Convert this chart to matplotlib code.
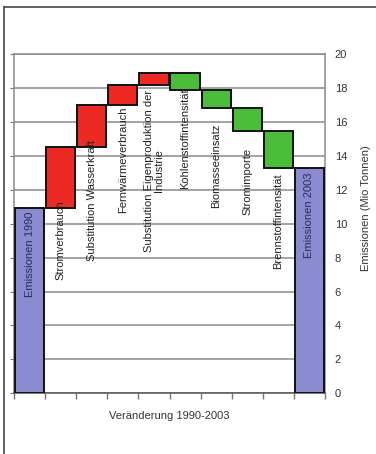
import numpy as np
import matplotlib
matplotlib.use('Agg')
import matplotlib.pyplot as plt
from matplotlib.lines import Line2D

plt.rcParams['font.family'] = ['Liberation Sans', 'DejaVu Sans']

# Emissionen 1990, Veränderungen, Emissionen 2003 (Mio Tonnen)
labels = ['Emissionen 1990', 'Stromverbrauch', 'Substitution Wasserkraft',
          'Fernwärmeverbrauch', 'Substitution Eigenproduktion der\nIndustrie',
          'Kohlenstoffintensität', 'Biomasseeinsatz', 'Stromimporte',
          'Brennstoffintensität', 'Emissionen 2003']
start_value = 10.9
changes = [3.6, 2.5, 1.2, 0.7, -1.05, -1.05, -1.35, -2.15]
end_value = 13.3

# oberer Rand der Beschriftung (in Mio Tonnen)
label_top = [10.7, 11.4, 14.9, 16.9, 17.9, 18.0, 15.9, 14.45, 12.95, 13.0]

blue = '#8b8bd2'
red = '#ec2a23'
green = '#4cbd3a'

fig = plt.figure(figsize=(3.76, 4.54), dpi=100)
ax = fig.add_axes([14 / 376, 1 - 393.3 / 454, 311 / 376, 339.3 / 454])

n = len(labels)
x = np.arange(n)
w = 0.94

# Wasserfall: Sockel + Veränderung
level = start_value
bottoms, heights, colors = [0.0], [start_value], [blue]
for c in changes:
    new = level + c
    bottoms.append(min(level, new))
    heights.append(abs(c))
    colors.append(red if c > 0 else green)
    level = new
bottoms.append(0.0)
heights.append(end_value)
colors.append(blue)

ax.bar(x, heights, bottom=bottoms, width=w, color=colors,
       edgecolor='#111111', linewidth=1.4, zorder=3)

for i, (lab, yt) in enumerate(zip(labels, label_top)):
    col = '#2b2b5e' if i in (0, n - 1) else '#222222'
    ax.text(x[i], yt, lab, rotation=90, ha='center', va='top',
            multialignment='center', fontsize=8, color=col, zorder=4,
            linespacing=1.1)

ax.set_xlim(-0.5, n - 0.5)
ax.set_ylim(0, 20)
ax.set_yticks(np.arange(0, 21, 2))
ax.yaxis.grid(True, color='#8a8a8a', linewidth=1.1, zorder=0)
ax.set_axisbelow(True)

ax.set_xticks(np.arange(-0.5, n, 1.0))
ax.set_xticklabels([])
ax.tick_params(axis='x', direction='out', length=4, color='#777777', width=1)
ax.tick_params(axis='y', left=True, right=False, labelleft=False,
               labelright=True, direction='out', length=3, pad=4,
               color='#777777', labelsize=8, labelcolor='#333333')

for s in ax.spines.values():
    s.set_color('#8a8a8a')
    s.set_linewidth(1.1)
ax.spines['bottom'].set_color('#555555')

ax.set_xlabel('Veränderung 1990-2003', fontsize=8, color='#333333', labelpad=5)
fig.text(366 / 376, 1 - 208 / 454, 'Emissionen (Mio Tonnen)', rotation=90,
         ha='center', va='center', fontsize=8, color='#333333')

# Rahmen oben und links
fig.add_artist(Line2D([4 / 376, 1], [1 - 7 / 454, 1 - 7 / 454],
                      color='#555555', linewidth=1.3, transform=fig.transFigure))
fig.add_artist(Line2D([4 / 376, 4 / 376], [0, 1 - 7 / 454],
                      color='#555555', linewidth=1.3, transform=fig.transFigure))

fig.savefig('out.png', dpi=100)
